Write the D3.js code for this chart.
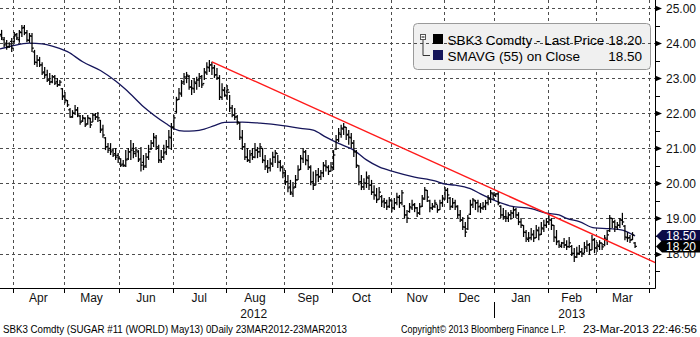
<!DOCTYPE html>
<html>
<head>
<meta charset="utf-8">
<script src="https://cdnjs.cloudflare.com/ajax/libs/d3/7.8.5/d3.min.js"></script>
<style>
  html, body { margin: 0; padding: 0; background: #fff; }
  svg { display: block; font-family: "Liberation Sans", Arial, sans-serif; }
</style>
</head>
<body>
<svg id="chart" width="700" height="337"></svg>
<script>
// ---- SBK3 Comdty daily bars, 23 Mar 2012 .. 22 Mar 2013 (one entry per trading day) ----
const opens = [
  24.30,24.25,24.10,24.00,23.90,24.05,24.05,24.25,24.10,24.30,24.45,24.30,
  24.08,24.20,23.75,23.45,23.52,23.38,23.18,23.10,22.95,22.90,23.04,22.90,
  22.82,22.70,22.50,22.36,22.10,21.90,22.00,22.10,21.92,21.78,21.85,21.70,
  21.85,21.75,21.95,21.90,21.80,21.55,21.30,21.05,21.00,20.95,20.85,20.80,
  20.70,20.55,20.50,20.70,20.90,21.00,20.85,20.90,20.70,20.60,20.50,20.75,
  20.98,21.15,21.30,21.00,20.65,20.75,20.90,21.05,21.30,21.60,22.05,22.40,
  22.55,22.90,23.00,23.05,22.75,22.70,22.85,22.95,23.05,22.85,23.15,23.30,
  23.38,23.30,23.10,23.00,22.45,22.65,22.50,22.60,22.15,21.95,21.90,21.72,
  21.30,21.05,20.75,20.65,20.85,20.75,20.95,20.90,21.00,20.65,20.50,20.45,
  20.55,20.75,20.85,20.60,20.45,20.30,20.05,19.90,19.70,19.90,20.10,20.40,
  20.70,20.90,20.65,20.45,20.05,19.95,20.25,20.20,20.30,20.50,20.45,20.35,
  20.45,20.98,21.25,21.40,21.55,21.60,21.40,21.30,21.15,20.90,20.50,20.05,
  19.90,20.00,20.15,19.95,19.75,19.65,19.55,19.62,19.50,19.45,19.35,19.50,
  19.30,19.45,19.60,19.45,19.35,19.10,19.20,19.30,19.40,19.30,19.15,19.35,
  19.55,19.80,19.50,19.30,19.35,19.40,19.25,19.45,19.55,19.80,19.58,19.35,
  19.45,19.35,19.10,18.95,18.75,18.70,19.12,19.40,19.50,19.45,19.35,19.30,
  19.35,19.45,19.55,19.70,19.65,19.70,19.35,19.10,19.05,19.00,19.10,19.15,
  19.25,19.10,18.90,18.80,18.60,18.40,18.45,18.55,18.45,18.65,18.55,18.70,
  18.80,18.90,18.95,18.80,18.45,18.35,18.20,18.30,18.25,18.20,18.20,18.00,
  17.90,18.00,18.05,18.00,18.15,18.25,18.10,18.40,18.15,18.20,18.30,18.25,
  18.40,18.65,19.00,18.90,18.75,18.80,18.95,18.78,18.45,18.45,18.40,18.30
];
const highs = [
  24.43,24.38,24.18,24.09,24.03,24.15,24.32,24.29,24.38,24.52,24.52,24.38,
  24.29,24.29,23.81,23.66,23.61,23.46,23.32,23.24,23.15,23.09,23.09,23.01,
  22.95,22.72,22.61,22.38,22.15,22.09,22.24,22.18,21.95,21.95,21.89,21.95,
  21.87,22.01,22.01,22.04,21.81,21.67,21.32,21.15,21.15,21.01,21.01,20.87,
  20.72,20.67,20.95,21.01,21.24,21.15,21.04,20.95,21.04,20.81,20.87,21.10,
  21.24,21.44,21.38,21.10,20.95,21.10,21.24,21.52,21.72,21.95,22.47,22.72,
  22.95,23.15,23.18,23.09,22.95,23.01,23.04,23.15,23.09,23.29,23.46,23.52,
  23.47,23.38,23.29,23.09,22.86,22.75,22.81,22.52,22.24,22.15,21.95,21.75,
  21.52,21.15,21.01,20.95,21.01,21.15,21.04,21.15,21.01,20.81,20.67,20.72,
  20.90,20.95,20.81,20.67,20.52,20.38,20.24,20.10,20.04,20.24,20.52,20.81,
  21.01,20.95,20.81,20.52,20.34,20.38,20.44,20.38,20.61,20.67,20.52,20.61,
  20.95,21.38,21.58,21.67,21.72,21.61,21.52,21.44,21.24,20.95,20.52,20.24,
  20.15,20.34,20.24,20.10,19.95,19.87,19.90,19.67,19.58,19.53,19.61,19.53,
  19.58,19.73,19.67,19.81,19.38,19.24,19.44,19.53,19.44,19.33,19.44,19.67,
  19.90,19.81,19.53,19.44,19.53,19.38,19.53,19.67,19.90,19.87,19.61,19.58,
  19.53,19.38,19.24,19.04,18.90,19.10,19.53,19.58,19.53,19.53,19.44,19.47,
  19.53,19.67,19.81,19.75,19.72,19.76,19.38,19.30,19.24,19.18,19.24,19.33,
  19.30,19.18,19.01,18.81,18.67,18.61,18.73,18.67,18.81,18.76,18.90,18.96,
  19.01,19.10,19.01,18.81,18.67,18.38,18.33,18.44,18.38,18.47,18.24,18.16,
  18.19,18.24,18.16,18.33,18.38,18.30,18.53,18.44,18.33,18.38,18.30,18.53,
  18.67,19.10,19.01,18.96,18.90,19.01,19.16,18.81,18.61,18.53,18.61,18.33
];
const lows = [
  24.01,24.09,23.89,23.81,23.86,23.75,24.01,24.09,24.01,24.18,24.23,24.03,
  24.01,23.75,23.38,23.32,23.32,23.09,23.01,22.89,22.81,22.86,22.81,22.75,
  22.78,22.38,22.29,22.18,21.87,21.87,21.95,21.89,21.67,21.75,21.61,21.67,
  21.58,21.75,21.81,21.75,21.44,21.30,20.95,20.87,20.81,20.75,20.67,20.58,
  20.47,20.47,20.47,20.67,20.67,20.72,20.75,20.61,20.34,20.38,20.44,20.67,
  20.95,21.04,20.95,20.58,20.58,20.67,20.81,21.01,20.95,21.52,22.01,22.38,
  22.47,22.81,22.86,22.67,22.52,22.58,22.67,22.75,22.72,22.95,23.09,23.18,
  23.09,23.01,22.95,22.38,22.38,22.47,22.38,22.04,21.89,21.81,21.67,21.24,
  20.95,20.67,20.61,20.58,20.67,20.72,20.72,20.75,20.58,20.38,20.30,20.34,
  20.47,20.58,20.44,20.34,20.15,19.95,19.75,19.67,19.61,19.87,20.10,20.38,
  20.58,20.52,20.38,19.95,19.81,19.95,20.04,20.10,20.18,20.34,20.24,20.34,
  20.38,20.95,21.18,21.30,21.38,21.24,21.10,21.01,20.75,20.44,19.95,19.81,
  19.81,19.87,19.81,19.67,19.53,19.44,19.53,19.33,19.30,19.24,19.30,19.18,
  19.24,19.38,19.30,19.38,19.01,18.87,19.16,19.24,19.18,19.04,19.10,19.33,
  19.53,19.47,19.18,19.24,19.30,19.16,19.24,19.33,19.53,19.44,19.24,19.30,
  19.24,19.01,18.90,18.67,18.47,18.67,19.10,19.30,19.24,19.18,19.16,19.24,
  19.24,19.38,19.44,19.53,19.61,19.38,19.01,18.96,18.90,18.90,18.96,19.01,
  19.01,18.81,18.73,18.47,18.33,18.33,18.38,18.33,18.44,18.38,18.53,18.61,
  18.73,18.81,18.67,18.33,18.24,18.16,18.16,18.16,18.10,18.16,17.93,17.76,
  17.87,17.96,17.90,18.01,18.04,17.96,18.10,18.01,18.04,18.10,18.10,18.21,
  18.24,18.61,18.73,18.61,18.67,18.73,18.81,18.38,18.33,18.30,18.38,18.16
];
const closes = [
  24.21,24.15,23.95,23.89,23.98,23.86,24.21,24.15,24.32,24.43,24.29,24.09,
  24.21,23.86,23.46,23.52,23.38,23.15,23.09,22.95,22.89,23.04,22.86,22.81,
  22.89,22.47,22.38,22.24,21.89,22.01,22.09,21.95,21.75,21.87,21.67,21.87,
  21.67,21.95,21.89,21.87,21.52,21.38,21.04,20.95,20.90,20.81,20.75,20.72,
  20.52,20.52,20.67,20.90,20.95,20.90,20.95,20.67,20.52,20.47,20.75,20.90,
  21.15,21.32,21.04,20.67,20.75,20.87,21.04,21.32,21.61,21.87,22.38,22.58,
  22.86,23.04,23.09,22.75,22.72,22.89,22.95,23.04,22.81,23.18,23.32,23.38,
  23.29,23.09,23.01,22.47,22.67,22.52,22.67,22.15,21.95,21.89,21.75,21.32,
  21.04,20.75,20.67,20.81,20.75,20.95,20.90,21.04,20.67,20.47,20.44,20.58,
  20.75,20.87,20.61,20.47,20.30,20.04,19.87,19.75,19.87,20.10,20.38,20.72,
  20.90,20.67,20.47,20.04,19.95,20.24,20.18,20.30,20.52,20.47,20.34,20.47,
  20.81,21.24,21.44,21.58,21.61,21.38,21.32,21.15,20.90,20.52,20.04,19.90,
  20.01,20.18,19.95,19.75,19.67,19.53,19.75,19.47,19.44,19.33,19.53,19.30,
  19.44,19.61,19.44,19.73,19.10,19.01,19.33,19.38,19.30,19.16,19.33,19.58,
  19.81,19.61,19.30,19.33,19.44,19.24,19.44,19.58,19.81,19.67,19.33,19.44,
  19.33,19.10,18.96,18.76,18.61,19.01,19.38,19.53,19.44,19.33,19.30,19.33,
  19.44,19.58,19.73,19.67,19.70,19.44,19.10,19.04,19.04,19.10,19.16,19.24,
  19.10,18.90,18.81,18.61,18.44,18.44,18.53,18.44,18.67,18.53,18.73,18.81,
  18.90,18.96,18.81,18.47,18.33,18.24,18.30,18.24,18.19,18.30,18.01,17.90,
  18.01,18.04,18.01,18.19,18.24,18.10,18.38,18.16,18.24,18.30,18.19,18.44,
  18.53,19.01,18.90,18.76,18.81,18.96,18.90,18.47,18.44,18.38,18.53,18.20
];

// 55-day simple moving average of the close, sampled at these bar indices
const smaIndex = [0,5,12,17,21,27,33,40,46,50,57,66,69,73,77,81,85,89,96,103,
  112,119,124,129,134,140,145,150,156,164,172,176,180,186,190,196,202,210,216,221,
  224,229,235,241,246,251];
const smaValues = [23.83,23.92,24.00,23.98,23.92,23.76,23.47,23.22,22.92,22.68,
  22.19,21.70,21.56,21.49,21.50,21.55,21.65,21.74,21.75,21.72,
  21.65,21.57,21.52,21.32,21.14,20.95,20.67,20.47,20.33,20.18,
  20.07,19.98,19.95,19.85,19.70,19.50,19.35,19.28,19.15,19.10,
  19.00,18.91,18.73,18.71,18.67,18.50];

// Down-trend line from the July high (bar index, price)
const trendIndex = [84, 259];
const trendValues = [23.47, 17.74];

const priceTicks = [18, 19, 20, 21, 22, 23, 24, 25];
const monthLabels = ["Apr","May","Jun","Jul","Aug","Sep","Oct","Nov","Dec","Jan","Feb","Mar"];
const yearLabels = ["2012", "2013"];
const calendarStart = "2012-03-23";
const calendarEnd = "2013-04-01";
const holidays = ["2012-04-06","2012-05-28","2012-07-04","2012-09-03","2012-11-22",
  "2012-12-25","2013-01-01","2013-01-21","2013-02-18"];
const lastPrice = 18.20;
const lastSma = 18.50;
const legendRows = ["SBK3 Comdty - Last Price", "SMAVG (55) on Close"];
const footerLeft = "SBK3 Comdty (SUGAR #11 (WORLD) May13) 0Daily 23MAR2012-23MAR2013";
const footerMid = "Copyright\u00A9 2013 Bloomberg Finance L.P.";
const footerRight = "23-Mar-2013 22:46:56";

// ---- layout ----
const W = 700, H = 337;
const plotR = 655, plotB = 288;
const smaColor = "#15155a";
const gridColor = "#4d4d4d";

// trading-day calendar (weekdays minus exchange holidays)
const fmt = d3.utcFormat("%Y-%m-%d");
const parseDay = d3.utcParse("%Y-%m-%d");
const days = [];
for (let d = parseDay(calendarStart); d <= parseDay(calendarEnd); d = d3.utcDay.offset(d, 1)) {
  const wd = d.getUTCDay();
  if (wd === 0 || wd === 6) continue;
  if (holidays.includes(fmt(d))) continue;
  days.push(d);
}
const monthStarts = [];
days.forEach((d, i) => {
  if (i > 0 && d.getUTCMonth() !== days[i - 1].getUTCMonth()) monthStarts.push({ i, date: d });
});

const x = d3.scaleLinear().domain([0, monthStarts[monthStarts.length - 1].i]).range([-2.2, 649]);
const y = d3.scaleLinear().domain([18, 25]).range([253.5, 8.15]);

const svg = d3.select("#chart");
svg.append("rect").attr("width", W).attr("height", H).attr("fill", "#fff");
svg.append("defs").append("clipPath").attr("id", "plotClip")
  .append("rect").attr("x", 0).attr("y", 0).attr("width", plotR).attr("height", plotB);

// vertical month grid
const gV = svg.append("g");
monthStarts.forEach(m => {
  const gx = Math.round(x(m.i)) + 0.5;
  if (gx < plotR) {
    gV.append("line").attr("x1", gx).attr("x2", gx).attr("y1", 0).attr("y2", plotB)
      .attr("stroke", gridColor).attr("stroke-dasharray", "3,3");
  }
});

// legend panel (price grid is drawn over it, the entries on top)
svg.append("rect").attr("x", 413.5).attr("y", 23.5).attr("width", 237).attr("height", 46)
  .attr("rx", 4).attr("fill", "#f0f0f0").attr("stroke", "#9a9a9a");

// horizontal price grid
const gH = svg.append("g");
priceTicks.forEach(p => {
  const gy = Math.round(y(p)) + 0.5;
  gH.append("line").attr("x1", 0).attr("x2", plotR).attr("y1", gy).attr("y2", gy)
    .attr("stroke", gridColor).attr("stroke-dasharray", "3,3");
});

// legend entries
const lgt = svg.append("g");
lgt.append("rect").attr("x", 420.5).attr("y", 34.5).attr("width", 5).attr("height", 5)
  .attr("fill", "#fff").attr("stroke", "#555");
lgt.append("line").attr("x1", 421.5).attr("x2", 424.5).attr("y1", 37).attr("y2", 37).attr("stroke", "#000");
lgt.append("path").attr("d", "M423,40V55.5H430").attr("fill", "none").attr("stroke", "#333");
lgt.append("rect").attr("x", 433).attr("y", 34).attr("width", 10).attr("height", 10).attr("fill", "#000");
lgt.append("rect").attr("x", 433).attr("y", 50).attr("width", 10).attr("height", 10).attr("fill", smaColor);
[[legendRows[0], lastPrice, 45], [legendRows[1], lastSma, 60.5]].forEach(([t, v, by]) => {
  lgt.append("text").attr("x", 447.5).attr("y", by).attr("font-size", 13.5).attr("fill", "#000").text(t);
  lgt.append("text").attr("x", 642).attr("y", by).attr("font-size", 13.5).attr("fill", "#000")
    .attr("text-anchor", "end").text(v.toFixed(2));
});

// plot contents
const plot = svg.append("g").attr("clip-path", "url(#plotClip)");

plot.append("path")
  .datum(smaIndex.map((i, k) => [i, smaValues[k]]))
  .attr("fill", "none").attr("stroke", smaColor).attr("stroke-width", 1.3)
  .attr("d", d3.line().x(d => x(d[0] + 0.5)).y(d => y(d[1])).curve(d3.curveMonotoneX));

const bars = plot.append("g").attr("stroke", "#000").attr("stroke-width", 1.25);
closes.forEach((c, i) => {
  const bx = x(i + 0.5);
  bars.append("line").attr("x1", bx).attr("x2", bx).attr("y1", y(highs[i])).attr("y2", y(lows[i]));
  bars.append("line").attr("x1", bx - 1.8).attr("x2", bx).attr("y1", y(opens[i])).attr("y2", y(opens[i]));
  bars.append("line").attr("x1", bx).attr("x2", bx + 1.8).attr("y1", y(c)).attr("y2", y(c));
});

plot.append("line")
  .attr("x1", x(trendIndex[0] + 0.5)).attr("y1", y(trendValues[0]))
  .attr("x2", x(trendIndex[1] + 0.5)).attr("y2", y(trendValues[1]))
  .attr("stroke", "#ff1a1a").attr("stroke-width", 1.4);

// right price axis
const ax = svg.append("g");
ax.append("line").attr("x1", plotR + 0.5).attr("x2", plotR + 0.5).attr("y1", 0).attr("y2", plotB + 0.5)
  .attr("stroke", "#000");
d3.range(17.5, 25.01, 0.5).forEach(p => {
  const ty = Math.round(y(p)) + 0.5;
  if (ty < 0 || ty > plotB) return;
  if (Math.abs(p - Math.round(p)) < 1e-6) {
    ax.append("path").attr("d", `M${plotR},${ty - 3}L${plotR + 7},${ty}L${plotR},${ty + 3}Z`).attr("fill", "#000");
  } else {
    ax.append("line").attr("x1", plotR).attr("x2", plotR + 5).attr("y1", ty).attr("y2", ty).attr("stroke", "#000");
  }
});
priceTicks.forEach(p => {
  ax.append("text").attr("x", 666).attr("y", y(p) + 4.4).attr("font-size", 12).attr("fill", "#111")
    .text(p.toFixed(2));
});

// last-value tags
function tag(v, fill) {
  const ty = y(v);
  ax.append("path")
    .attr("d", `M${plotR + 1},${ty}L${plotR + 7},${ty - 6}H${W}V${ty + 6}H${plotR + 7}Z`)
    .attr("fill", fill);
  ax.append("text").attr("x", 666).attr("y", ty + 4.4).attr("font-size", 12).attr("fill", "#fff")
    .text(v.toFixed(2));
}
tag(lastSma, "#0c0c48");
tag(lastPrice, "#000");

// bottom time axis
const bx = svg.append("g");
bx.append("line").attr("x1", 0).attr("x2", plotR + 0.5).attr("y1", plotB + 0.5).attr("y2", plotB + 0.5).attr("stroke", "#000");
monthStarts.forEach(m => {
  const tx = Math.round(x(m.i)) + 0.5;
  bx.append("line").attr("x1", tx).attr("x2", tx).attr("y1", plotB).attr("y2", plotB + 5).attr("stroke", "#000");
});
monthLabels.forEach((t, k) => {
  const a = monthStarts[k].i, b = monthStarts[k + 1].i;
  bx.append("text").attr("x", x((a + b) / 2)).attr("y", 302).attr("font-size", 12)
    .attr("text-anchor", "middle").attr("fill", "#111").text(t);
});
const yearBreak = monthStarts.find(m => m.date.getUTCFullYear() === 2013).i;
const spans = [[monthStarts[0].i, yearBreak], [yearBreak, monthStarts[monthStarts.length - 1].i]];
yearLabels.forEach((t, k) => {
  bx.append("text").attr("x", x((spans[k][0] + spans[k][1]) / 2)).attr("y", 318).attr("font-size", 12)
    .attr("text-anchor", "middle").attr("fill", "#111").text(t);
});
const sepX = Math.round(x(yearBreak)) + 0.5;
bx.append("line").attr("x1", sepX).attr("x2", sepX).attr("y1", 302).attr("y2", 318).attr("stroke", "#000");

// footer
const ft = svg.append("g").attr("font-size", 10).attr("fill", "#000");
ft.append("text").attr("x", 3).attr("y", 333).attr("textLength", 344).attr("lengthAdjust", "spacingAndGlyphs").text(footerLeft);
ft.append("text").attr("x", 401).attr("y", 333).attr("textLength", 165).attr("lengthAdjust", "spacingAndGlyphs").text(footerMid);
ft.append("text").attr("x", 583).attr("y", 333).attr("textLength", 114).attr("lengthAdjust", "spacingAndGlyphs").text(footerRight);
</script>
</body>
</html>
